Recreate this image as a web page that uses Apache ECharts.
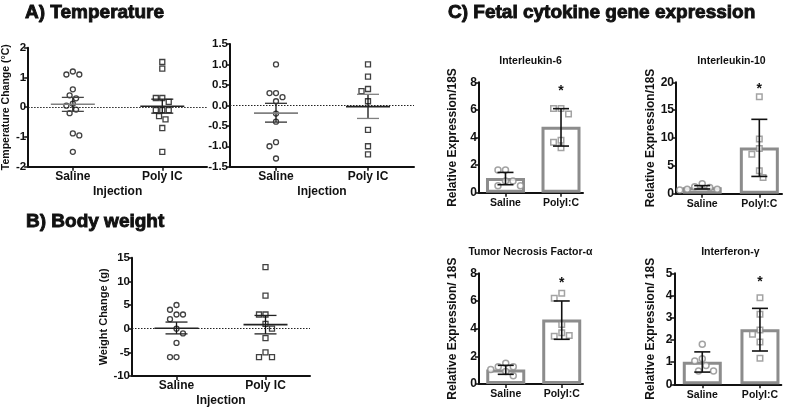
<!DOCTYPE html>
<html><head><meta charset="utf-8">
<script src="https://cdn.jsdelivr.net/npm/echarts@6/dist/echarts.min.js"></script>
<style>html,body{margin:0;padding:0;background:#fff}#c{width:789px;height:409px}</style>
</head><body><div id="c"></div>
<script>
// ---------------- DATA ----------------
const groupsA = ['Saline', 'Poly IC'];
const groupsC = ['Saline', 'PolyI:C'];

// A) Temperature, left
const tempL_saline = [1.2, 1.1, 1.1, 0.6, 0.4, 0.3, 0.12, 0.05, -0.08, -0.2, -0.88, -0.95, -1.5];
const tempL_poly   = [1.52, 1.3, 0.31, 0.31, 0.18, -0.1, -0.1, -0.1, -0.3, -0.41, -0.7, -1.5];
const tempL_mean = [0.1, 0.03];
const tempL_lo   = [-0.14, -0.2];
const tempL_hi   = [0.33, 0.27];
const tempL_ticks = [-2, 2, 1];

// A) Temperature, right
const tempR_saline = [1.0, 0.3, 0.3, 0.2, 0.1, -0.2, -0.4, -0.9, -1.0, -1.3];
const tempR_poly   = [1.0, 0.7, 0.4, 0.35, 0.1, -0.6, -1.0, -1.2];
const tempR_mean = [-0.19, -0.03];
const tempR_lo   = [-0.41, -0.32];
const tempR_hi   = [0.05, 0.27];
const tempR_ticks = [-1.5, 1.5, 0.5];

// B) Body weight
const weight_saline = [5, 4, 3, 3, 2, 0, -1, -3, -6, -6];
const weight_poly   = [13, 7, 3, 3, 1, 0, -2, -5, -6, -6];
const weight_mean = [0.1, 0.85];
const weight_lo   = [-1.1, -1.1];
const weight_hi   = [1.4, 2.8];
const weight_ticks = [-10, 15, 5];

// C) Fetal cytokine gene expression
const il6_saline = [1.65, 1.65, 0.85, 0.85, 0.5, 0.5];
const il6_poly   = [6.1, 6.1, 5.7, 3.8, 3.65, 3.25];
const il6_mean = [1.07, 4.78];
const il6_lo   = [0.58, 3.38];
const il6_hi   = [1.47, 6.09];
const il6_star = 7.6;
const il6_ticks = [0, 8, 2];

const il10_saline = [1.25, 0.8, 0.65, 0.8, 1.8, 1.1];
const il10_poly   = [17.4, 9.8, 8.1, 7.1, 4.1, 2.9];
const il10_mean = [1.15, 8.3];
const il10_lo   = [0.85, 3.1];
const il10_hi   = [1.45, 13.35];
const il10_star = 19.3;
const il10_ticks = [0, 20, 5];

const tnf_saline = [1.5, 1.25, 1.25, 1.05, 0.9, 0.6];
const tnf_poly   = [6.55, 6.2, 4.3, 3.7, 3.45, 3.5];
const tnf_mean = [1.05, 4.67];
const tnf_lo   = [0.7, 3.23];
const tnf_hi   = [1.35, 6.0];
const tnf_star = 7.5;
const tnf_ticks = [0, 8, 2];

const ifn_saline = [1.8, 1.15, 1.05, 0.85, 0.6, 0.6];
const ifn_poly   = [3.9, 3.15, 2.45, 2.25, 1.9, 1.17];
const ifn_mean = [1.02, 2.48];
const ifn_lo   = [0.55, 1.5];
const ifn_hi   = [1.46, 3.42];
const ifn_star = 4.75;
const ifn_ticks = [0, 5, 1];

// ---------------- LAYOUT / STYLE ----------------
const FONT = 'Liberation Sans, Arial, Helvetica, sans-serif';
const INK = '#111';
const GRAY = '#8c8c8c';

const panels = [
  {rect:[27, 47.7, 180, 119], xr:[-0.5, 1.5], ticks:tempL_ticks, cats:groupsA, s:tempL_saline, p:tempL_poly,
   mean:tempL_mean, lo:tempL_lo, hi:tempL_hi, kind:'dot', yname:'Temperature Change (\u00B0C)', ynameGap:15, ynameSize:10.5,
   xname:'Injection', dec:0, meanCol:['#808080','#222'], capCol:['#444','#222']},
  {rect:[230, 44, 184, 122.7], xr:[-0.5, 1.5], ticks:tempR_ticks, cats:groupsA, s:tempR_saline, p:tempR_poly,
   mean:tempR_mean, lo:tempR_lo, hi:tempR_hi, kind:'dot', yname:'', xname:'Injection', dec:1,
   meanCol:['#808080','#222'], capCol:['#333','#808080']},
  {rect:[132, 257.7, 178, 118.3], xr:[-0.5, 1.5], ticks:weight_ticks, cats:groupsA, s:weight_saline, p:weight_poly,
   mean:weight_mean, lo:weight_lo, hi:weight_hi, kind:'dot', yname:'Weight Change (g)', ynameGap:18, ynameSize:11,
   xname:'Injection', dec:0, meanCol:['#222','#222'], capCol:['#222','#222']},
  {rect:[479, 82.3, 104, 110.4], xr:[-0.477, 1.396], ticks:il6_ticks, cats:groupsC, s:il6_saline, p:il6_poly,
   mean:il6_mean, lo:il6_lo, hi:il6_hi, star:il6_star, kind:'bar', yname:'Relative Expression/18S', ynameGap:20, ynameSize:12,
   title:'Interleukin-6', dec:0},
  {rect:[676, 82.3, 106, 111.4], xr:[-0.459, 1.397], ticks:il10_ticks, cats:groupsC, s:il10_saline, p:il10_poly,
   mean:il10_mean, lo:il10_lo, hi:il10_hi, star:il10_star, kind:'bar', yname:'Relative Expression/18S', ynameGap:19, ynameSize:12,
   title:'Interleukin-10', dec:0},
  {rect:[479, 273.3, 104, 110.7], xr:[-0.478, 1.38], ticks:tnf_ticks, cats:groupsC, s:tnf_saline, p:tnf_poly,
   mean:tnf_mean, lo:tnf_lo, hi:tnf_hi, star:tnf_star, kind:'bar', yname:'Relative Expression/ 18S', ynameGap:20, ynameSize:12,
   title:'Tumor Necrosis Factor-\u03B1', dec:0},
  {rect:[674.3, 273.3, 107, 111], xr:[-0.485, 1.37], ticks:ifn_ticks, cats:groupsC, s:ifn_saline, p:ifn_poly,
   mean:ifn_mean, lo:ifn_lo, hi:ifn_hi, star:ifn_star, kind:'bar', yname:'Relative Expression/ 18S', ynameGap:17.6, ynameSize:12,
   title:'Interferon-\u03B3', dec:0}
];

// simple beeswarm: spread points of similar value sideways (pixel space -> data units)
function swarm(vals, cat, pxY, pxX, d) {
  const order = vals.map((v, i) => i).sort((a, b) => vals[b] - vals[a]);
  const placed = [];
  const out = [];
  let last = 1;
  order.forEach(i => {
    const y = vals[i] * pxY;
    const cands = [0];
    for (let k = 1; k < 40; k++) { cands.push(-last * k * d * 0.5); cands.push(last * k * d * 0.5); }
    let c = 0;
    for (const cc of cands) {
      if (!placed.some(p => (p.x - cc) ** 2 + (p.y - y) ** 2 < d * d * 0.92)) { c = cc; break; }
    }
    if (c !== 0) last = Math.sign(c);
    placed.push({x: c, y: y});
    out.push([cat + c / pxX, vals[i]]);
  });
  return out;
}

const grids = [], xAxes = [], yAxes = [], series = [], graphics = [];

function txt(x, y, text, size, align, heavy) {
  return {type:'text', x:x, y:y, silent:true,
    style:{text:text, fontSize:size, fontWeight:'bold', fontFamily:FONT, fill:INK,
           stroke: heavy ? INK : null, lineWidth: heavy ? 0.9 : 0,
           align:align||'left', textAlign:align||'left', verticalAlign:'middle', textVerticalAlign:'middle'}};
}
graphics.push(txt(25, 13, 'A) Temperature', 19, 'left', true));
graphics.push(txt(26, 222, 'B) Body weight', 19, 'left', true));
graphics.push(txt(448, 13, 'C) Fetal cytokine gene expression', 19, 'left', true));

panels.forEach((P, g) => {
  const [L, T, W, H] = P.rect;
  const [ymin, ymax, yint] = P.ticks;
  const isBar = P.kind === 'bar';
  grids.push({left:L, top:T, width:W, height:H, containLabel:false});
  const lineStyle = {color:INK, width:2};
  xAxes.push({
    gridIndex:g, type:'value', min:P.xr[0], max:P.xr[1],
    axisLine:{show:true, onZero:false, lineStyle:lineStyle},
    axisTick:{show:true, customValues:[0,1], length:4, lineStyle:{color:INK, width:1.5}},
    axisLabel:{show:true, customValues:[0,1], formatter:v => P.cats[Math.round(v)],
      fontFamily:FONT, fontWeight:'bold', fontSize:isBar ? 10.5 : 12, color:INK, margin:isBar ? 5 : 4},
    splitLine:{show:false},
    name:P.xname || '', nameLocation:'middle', nameGap:19,
    nameTextStyle:{fontFamily:FONT, fontWeight:'bold', fontSize:12, color:INK}
  });
  yAxes.push({
    gridIndex:g, type:'value', min:ymin, max:ymax, interval:yint,
    axisLine:{show:true, onZero:false, lineStyle:lineStyle},
    axisTick:{show:true, length:4, lineStyle:{color:INK, width:1.5}},
    axisLabel:{fontFamily:FONT, fontWeight:'bold', fontSize:isBar ? 12 : 11.5, color:INK, margin:2,
      formatter:v => v.toFixed(P.dec)},
    splitLine:{show:false},
    name:P.yname, nameLocation:'middle', nameGap:P.ynameGap || 15,
    nameTextStyle:{fontFamily:FONT, fontWeight:'bold', fontSize:P.ynameSize || 11, color:INK}
  });

  const pxY = H / (ymax - ymin);
  const pxX = W / (P.xr[1] - P.xr[0]);
  const ms = isBar ? 6 : 5;
  const col = isBar ? GRAY : INK;

  if (isBar) {
    series.push({type:'bar', xAxisIndex:g, yAxisIndex:g, barWidth:39, z:1,
      data:P.mean.map((m, i) => [i, m]),
      itemStyle:{color:'#fff', borderColor:GRAY, borderWidth:3}, silent:true});
  }
  const sData = swarm(P.s, 0, pxY, pxX, ms + 1.5);
  const pData = swarm(P.p, 1, pxY, pxX, ms + 1.5);
  const sSeries = {type:'scatter', xAxisIndex:g, yAxisIndex:g, symbol:'circle', symbolSize:ms, z:3,
    data:sData, itemStyle:{color:'#fff', borderColor:col, borderWidth:isBar ? 1.5 : 1.3}, silent:true};
  if (!isBar) {
    sSeries.markLine = {silent:true, symbol:'none', label:{show:false},
      lineStyle:{type:[1.5, 1.5], color:'#222', width:1}, data:[{yAxis:0}], animation:false};
  }
  series.push(sSeries);
  series.push({type:'scatter', xAxisIndex:g, yAxisIndex:g, symbol:'rect', symbolSize:isBar ? 5.5 : 5, z:3,
    data:pData, itemStyle:{color:'#fff', borderColor:col, borderWidth:isBar ? 1.5 : 1.3}, silent:true});

  // mean / error bars
  const meanW = isBar ? 0 : 44, capW = isBar ? 16 : 22;
  series.push({type:'custom', xAxisIndex:g, yAxisIndex:g, z:5, silent:true,
    data:P.mean.map((m, i) => [i, m, P.lo[i], P.hi[i]]),
    renderItem:(params, api) => {
      const i = params.dataIndex;
      const x = api.value(0);
      const pm = api.coord([x, api.value(1)]);
      const pl = api.coord([x, api.value(2)]);
      const ph = api.coord([x, api.value(3)]);
      const mc = P.meanCol ? P.meanCol[i] : INK;
      const cc = P.capCol ? P.capCol[i] : INK;
      const lw = isBar ? 1.6 : 1.3;
      const ch = [
        {type:'line', shape:{x1:pl[0], y1:pl[1], x2:ph[0], y2:ph[1]}, style:{stroke:INK, lineWidth:lw}},
        {type:'line', shape:{x1:pl[0]-capW/2, y1:pl[1], x2:pl[0]+capW/2, y2:pl[1]}, style:{stroke:cc, lineWidth:lw}},
        {type:'line', shape:{x1:ph[0]-capW/2, y1:ph[1], x2:ph[0]+capW/2, y2:ph[1]}, style:{stroke:cc, lineWidth:lw}}
      ];
      if (meanW) ch.push({type:'line', shape:{x1:pm[0]-meanW/2, y1:pm[1], x2:pm[0]+meanW/2, y2:pm[1]},
        style:{stroke:mc, lineWidth:1.6}});
      return {type:'group', children:ch};
    }});

  if (isBar) {
    series.push({type:'custom', xAxisIndex:g, yAxisIndex:g, z:6, silent:true,
      data:[[1, P.star]],
      renderItem:(params, api) => {
        const p = api.coord([api.value(0), api.value(1)]);
        return {type:'text', style:{text:'*', x:p[0], y:p[1] + 3, fontSize:14, fontWeight:'bold', fontFamily:FONT, fill:INK,
          align:'center', textAlign:'center', verticalAlign:'middle', textVerticalAlign:'middle'}};
      }});
    graphics.push(txt(L + W / 2 + (g % 2 ? -0.5 : 2.5), T - 21.6, P.title, 10.5, 'center'));
  }
});

const chart = echarts.init(document.getElementById('c'));
chart.setOption({
  animation:false,
  backgroundColor:'#fff',
  grid:grids, xAxis:xAxes, yAxis:yAxes, series:series, graphic:graphics
});
</script></body></html>
